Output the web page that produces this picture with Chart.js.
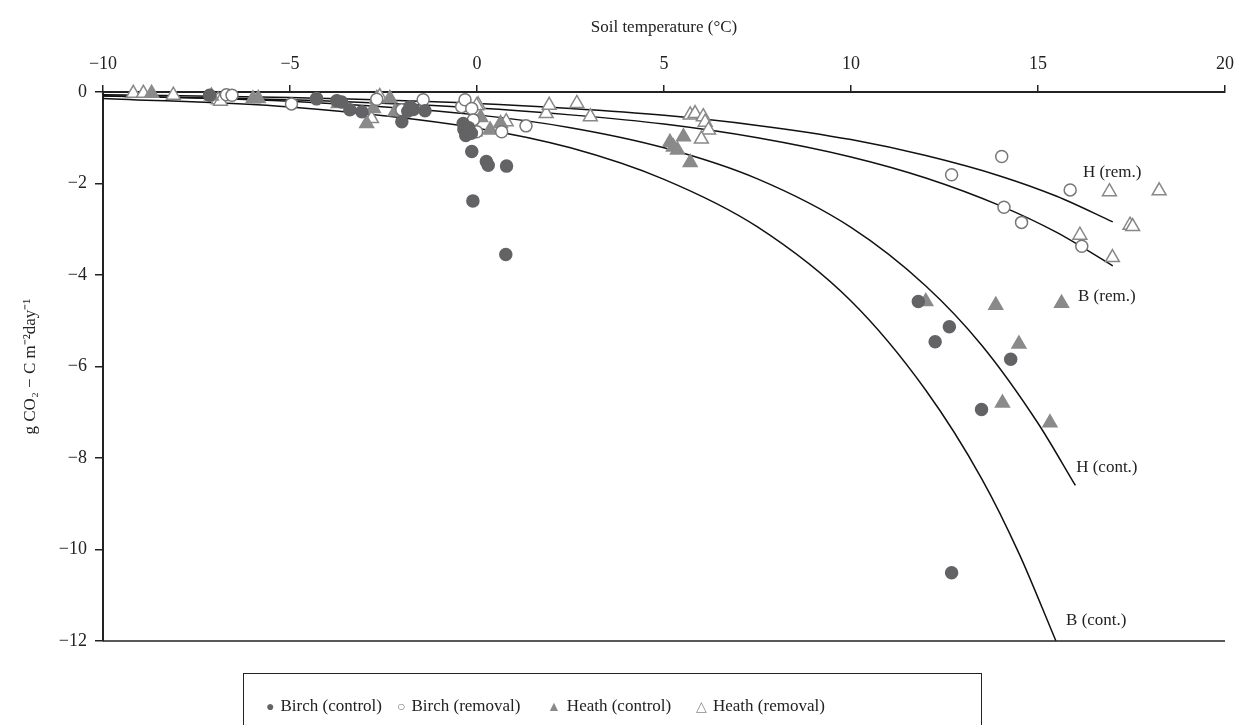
<!DOCTYPE html>
<html lang="en">
<head>
  <meta charset="UTF-8">
  <title>Soil temperature vs CO2 flux</title>
  <style>
    body {
      margin: 0;
      background: #fff;
    }

    .wrap {
      position: relative;
      width: 1237px;
      height: 725px;
    }

    .legend {
      position: absolute;
      left: 243px;
      top: 673px;
      width: 737px;
      height: 70px;
      border: 1.5px solid #222;
      font-family: "Liberation Serif", serif;
      font-size: 17px;
      color: #222;
    }

    .legend span.item {
      position: absolute;
      top: 22px;
      white-space: nowrap;
    }

    .legend .sym {
      font-size: 14px;
      margin-right: 6px;
    }
  </style>
</head>
<body>
  <div class="wrap">
    <canvas id="fluxChart"></canvas>
    <div class="legend">
      <span class="item" style="left:22px"><span class="sym" style="color:#636366">●</span>Birch (control)</span>
      <span class="item" style="left:153px"><span class="sym" style="color:#777">○</span>Birch (removal)</span>
      <span class="item" style="left:303px"><span class="sym" style="color:#8a8a8a">▲</span>Heath (control)</span>
      <span class="item" style="left:452px"><span class="sym" style="color:#888">△</span>Heath (removal)</span>
    </div>
  </div>

  <script src="https://cdn.jsdelivr.net/npm/chart.js"></script>
  <script>
    // measured points (soil temp, flux)
    const birchControlX = [-7.15, -4.29, -3.75, -3.62, -3.40, -3.08, -2.01, -1.85, -1.79, -1.70, -1.39, -0.37, -0.35, -0.30, -0.22, -0.15, -0.14, 0.25, 0.30, 0.79, -0.11, 0.77, 11.80, 12.25, 12.63, 14.27, 13.49, 12.69];
    const birchControlY = [-0.07, -0.15, -0.19, -0.22, -0.39, -0.43, -0.65, -0.42, -0.32, -0.38, -0.41, -0.69, -0.82, -0.95, -0.78, -0.90, -1.30, -1.52, -1.60, -1.62, -2.38, -3.55, -4.58, -5.46, -5.13, -5.84, -6.94, -10.51];

    const birchRemovalX = [-6.70, -6.55, -4.96, -4.29, -2.68, -2.01, -1.44, -0.41, -0.32, -0.14, -0.10, -0.32, -0.01, 0.66, 1.31, 12.69, 14.03, 15.86, 14.09, 14.56, 16.17];
    const birchRemovalY = [-0.06, -0.07, -0.26, -0.14, -0.16, -0.39, -0.17, -0.32, -0.17, -0.36, -0.61, -0.79, -0.87, -0.87, -0.74, -1.81, -1.41, -2.14, -2.52, -2.85, -3.37];

    const heathControlX = [-8.70, -7.10, -5.99, -5.85, -3.71, -2.95, -2.77, -2.33, -2.19, -0.05, 0.10, 0.35, 0.63, 5.16, 5.25, 5.36, 5.52, 5.70, 12.00, 13.87, 15.63, 14.49, 14.05, 15.32];
    const heathControlY = [-0.03, -0.09, -0.15, -0.14, -0.25, -0.69, -0.36, -0.14, -0.43, -0.87, -0.56, -0.83, -0.69, -1.10, -1.20, -1.27, -0.98, -1.54, -4.58, -4.66, -4.62, -5.51, -6.80, -7.23];

    const heathRemovalX = [-9.19, -8.92, -8.12, -6.92, -6.86, -2.68, -2.60, -2.82, 0.03, -0.01, 0.78, 1.85, 1.93, 2.67, 3.03, 5.70, 5.83, 6.05, 6.10, 6.19, 6.00, 16.12, 16.91, 16.99, 17.46, 17.53, 18.24];
    const heathRemovalY = [-0.03, -0.03, -0.07, -0.17, -0.20, -0.14, -0.10, -0.58, -0.28, -0.30, -0.65, -0.47, -0.29, -0.25, -0.54, -0.50, -0.47, -0.54, -0.66, -0.83, -1.03, -3.13, -2.18, -3.62, -2.91, -2.94, -2.16];

    // fitted curves
    const fitXBc = [-10, -5, 0, 2.5, 5, 7.5, 10, 12, 13.5, 14.5, 15.48];
    const fitBc = [-0.14, -0.33, -0.79, -1.22, -1.91, -2.95, -4.57, -6.52, -8.46, -10.1, -12.0];
    const fitXHc = [-10, -5, 0, 2.5, 5, 7.5, 10, 12, 13.5, 15, 16];
    const fitHc = [-0.08, -0.2, -0.5, -0.78, -1.22, -1.9, -2.96, -4.24, -5.54, -7.24, -8.6];
    const fitXRem = [-10, -5, 0, 2.5, 5, 7.5, 10, 12, 14, 15.5, 17];
    const fitBr = [-0.09, -0.17, -0.35, -0.5, -0.7, -1.0, -1.42, -1.88, -2.49, -3.07, -3.8];
    const fitHr = [-0.06, -0.12, -0.25, -0.36, -0.51, -0.73, -1.04, -1.39, -1.84, -2.28, -2.84];

    const curveLabels = ['H (rem.)', 'B (rem.)', 'H (cont.)', 'B (cont.)'];
    const curveLabelX = [16.2, 16.07, 16.02, 15.75];
    const curveLabelY = [-1.75, -4.48, -8.2, -11.55];

    const xTicks = [-10, -5, 0, 5, 10, 15, 20];

    const pairs = (xs, ys) => xs.map((x, i) => ({ x: x, y: ys[i] }));
    const serif = '"Liberation Serif", "Times New Roman", serif';
    const minus = v => String(v).replace('-', '\u2212');

    function pointSet(label, xs, ys, style, fill, stroke, r) {
      return {
        label: label,
        data: pairs(xs, ys),
        pointStyle: style,
        pointRadius: r,
        pointBackgroundColor: fill,
        pointBorderColor: stroke,
        pointBorderWidth: 1.5,
        showLine: false,
        clip: false
      };
    }

    function curve(xs, ys) {
      return {
        data: pairs(xs, ys),
        showLine: true,
        borderColor: '#111',
        borderWidth: 1.5,
        pointRadius: 0,
        cubicInterpolationMode: 'monotone',
        fill: false,
        clip: false
      };
    }

    // bottom frame line + curve labels
    const extras = {
      id: 'extras',
      afterDatasetsDraw(chart) {
        const { ctx, chartArea, scales } = chart;
        ctx.save();
        ctx.strokeStyle = '#222';
        ctx.lineWidth = 1.5;
        ctx.beginPath();
        ctx.moveTo(chartArea.left, chartArea.bottom);
        ctx.lineTo(chartArea.right, chartArea.bottom);
        ctx.stroke();
        ctx.fillStyle = '#222';
        ctx.font = '17px ' + serif;
        ctx.textBaseline = 'middle';
        curveLabels.forEach((t, i) => {
          ctx.fillText(t, scales.x.getPixelForValue(curveLabelX[i]), scales.y.getPixelForValue(curveLabelY[i]));
        });
        ctx.restore();
      }
    };

    new Chart(document.getElementById('fluxChart'), {
      type: 'scatter',
      data: {
        datasets: [
          pointSet('Birch (control)', birchControlX, birchControlY, 'circle', '#636366', '#636366', 6),
          pointSet('Birch (removal)', birchRemovalX, birchRemovalY, 'circle', '#fff', '#777', 6),
          pointSet('Heath (control)', heathControlX, heathControlY, 'triangle', '#8a8a8a', '#8a8a8a', 8),
          pointSet('Heath (removal)', heathRemovalX, heathRemovalY, 'triangle', '#fff', '#888', 8),
          curve(fitXRem, fitHr),
          curve(fitXRem, fitBr),
          curve(fitXHc, fitHc),
          curve(fitXBc, fitBc)
        ]
      },
      options: {
        responsive: true,
        maintainAspectRatio: false,
        animation: false,
        layout: { padding: { left: 0, top: 0, right: 12, bottom: 84 } },
        plugins: {
          legend: { display: false },
          tooltip: { enabled: false }
        },
        scales: {
          x: {
            position: 'top',
            min: -10,
            max: 20,
            afterBuildTicks: s => { s.ticks = xTicks.map(v => ({ value: v })); },
            afterFit: s => { s.height = 92; s.paddingLeft = 0; s.paddingRight = 0; },
            ticks: {
              color: '#222',
              padding: 10,
              font: { family: serif, size: 18 },
              callback: v => minus(v)
            },
            grid: { drawOnChartArea: false, tickLength: 7, color: '#222', lineWidth: 1.5 },
            border: { color: '#222', width: 2 },
            title: {
              display: true,
              text: 'Soil temperature (°C)',
              color: '#222',
              font: { family: serif, size: 17 },
              padding: { top: 17, bottom: 0 }
            }
          },
          y: {
            min: -12,
            max: 0,
            afterFit: s => { s.width = 103; },
            ticks: {
              stepSize: 2,
              color: '#222',
              padding: 8,
              font: { family: serif, size: 18 },
              callback: v => minus(v)
            },
            grid: { drawOnChartArea: false, tickLength: 8, color: '#222', lineWidth: 1.5 },
            border: { color: '#222', width: 2 },
            title: {
              display: true,
              text: 'g CO\u2082 \u2212 C m\u207B\u00B2day\u207B\u00B9',
              color: '#222',
              font: { family: serif, size: 17 },
              padding: { top: 20, bottom: 0 }
            }
          }
        }
      },
      plugins: [extras]
    });
  </script>
</body>
</html>
